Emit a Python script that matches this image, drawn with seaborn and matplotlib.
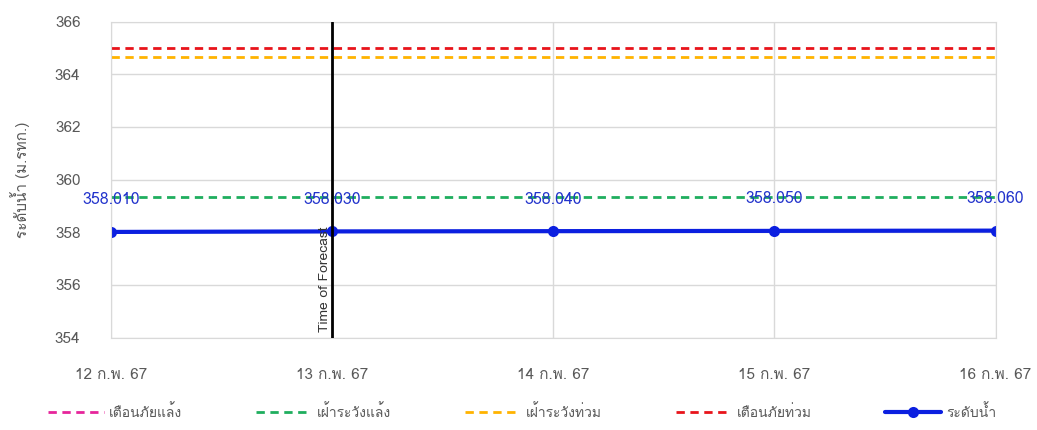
import pandas as pd
import matplotlib.pyplot as plt
import seaborn as sns
from matplotlib import font_manager
from matplotlib.ft2font import FT2Font

# data
dates = ["12 ก.พ. 67", "13 ก.พ. 67", "14 ก.พ. 67", "15 ก.พ. 67", "16 ก.พ. 67"]
water_level = [358.010, 358.030, 358.040, 358.050, 358.060]
drought_warning = None          # เตือนภัยแล้ง (off the visible range)
drought_watch = 359.35          # เฝ้าระวังแล้ง
flood_watch = 364.65            # เฝ้าระวังท่วม
flood_warning = 365.0           # เตือนภัยท่วม
forecast_index = 1

df = pd.DataFrame({"x": range(len(dates)), "level": water_level})


# look for any installed family that can draw Thai
def thai_families():
    found = []
    for f in font_manager.fontManager.ttflist:
        try:
            if 0x0E01 in FT2Font(f.fname).get_charmap() and f.name not in found:
                found.append(f.name)
        except Exception:
            pass
    return found


sns.set_style("white")
plt.rcParams["font.family"] = thai_families() + ["Noto Sans", "DejaVu Sans"]

fig, ax = plt.subplots(figsize=(10.37, 4.3), dpi=100)
grey = "#595959"

# threshold lines
ax.plot([], [], color="#e6259b", ls="--", lw=2, dashes=(3, 2), label="เตือนภัยแล้ง")
ax.axhline(drought_watch, color="#1fae5e", ls="--", lw=2, dashes=(3, 2), label="เฝ้าระวังแล้ง")
ax.axhline(flood_watch, color="#ffb300", ls="--", lw=2, dashes=(3, 2), label="เฝ้าระวังท่วม")
ax.axhline(flood_warning, color="#e8141b", ls="--", lw=2, dashes=(3, 2), label="เตือนภัยท่วม")

sns.lineplot(data=df, x="x", y="level", ax=ax, color="#0b1fe0", lw=3,
             marker="o", markersize=8, markeredgewidth=0, label="ระดับน้ำ")

for x, v in zip(df["x"], df["level"]):
    ax.annotate(f"{v:.3f}", (x, v), xytext=(0, 17), textcoords="offset points",
                ha="center", va="bottom", color="#2233cc", fontsize=11.5)

# time of forecast marker
ax.axvline(forecast_index, color="black", lw=2, zorder=5)
ax.text(forecast_index - 0.006, 354.2, "Time of Forecast", rotation=90,
        ha="right", va="bottom", fontsize=10, color="#333333")

ax.set_xlim(0, len(dates) - 1)
ax.set_ylim(354, 366)
ax.set_yticks(range(354, 367, 2))
ax.set_xticks(range(len(dates)))
ax.set_xticklabels(dates)
ax.grid(True, color="#d9d9d9", lw=1)
ax.set_axisbelow(True)
for s in ax.spines.values():
    s.set_color("#d9d9d9")
ax.tick_params(axis="both", colors=grey, labelsize=11, length=0)
ax.tick_params(axis="x", pad=22)
ax.tick_params(axis="y", pad=22)
ax.set_xlabel("")
ax.set_ylabel("ระดับน้ำ (ม.รทก.)", color=grey, fontsize=11, labelpad=18)

ax.legend(loc="upper center", bbox_to_anchor=(0.465, -0.17), ncol=5, frameon=False,
          fontsize=10, labelcolor=grey, handlelength=4, handletextpad=0.4,
          columnspacing=5.3)

plt.subplots_adjust(left=0.107, right=0.96, top=0.95, bottom=0.215)
plt.savefig("out.png")
